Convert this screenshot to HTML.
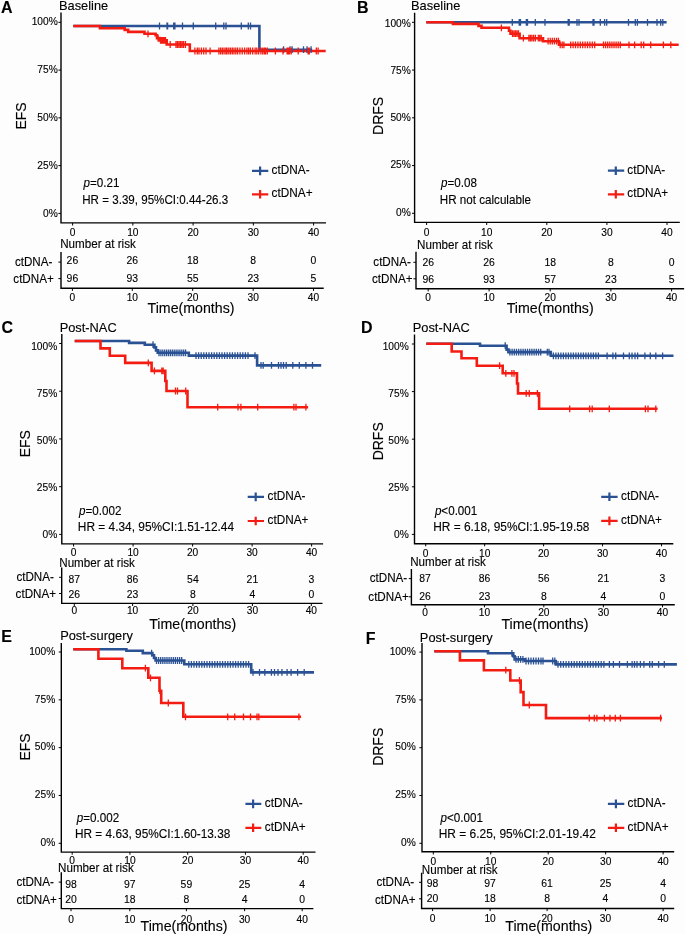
<!DOCTYPE html>
<html><head><meta charset="utf-8"><title>KM curves</title>
<style>
html,body{margin:0;padding:0;background:#fff;}
body{width:685px;height:934px;overflow:hidden;}
svg{display:block;will-change:transform;}
svg text{font-family:"Liberation Sans",sans-serif;fill:#000;stroke:#000;stroke-width:0.12px;}
</style></head><body>
<svg width="685" height="934" viewBox="0 0 685 934">
<rect width="685" height="934" fill="#fdfdfd"/>
<text font-size="16" font-weight="bold" transform="translate(1.1 12.6) scale(1 1.04)">A</text>
<text font-size="12.85" transform="translate(58.95 10.2) scale(1 1.04)">Baseline</text>
<text x="0" y="0" font-size="14" text-anchor="middle" transform="translate(25.52 116) rotate(-90) scale(1 1.04)">EFS</text>
<path d="M61 12.6V222.9H326" fill="none" stroke="#000" stroke-width="1.4"/>
<text font-size="10.2" text-anchor="end" transform="translate(57.7 25.15) scale(1 1.04)">100%</text>
<text font-size="10.2" text-anchor="end" transform="translate(57.7 73.1) scale(1 1.04)">75%</text>
<text font-size="10.2" text-anchor="end" transform="translate(57.7 121.05) scale(1 1.04)">50%</text>
<text font-size="10.2" text-anchor="end" transform="translate(57.7 169) scale(1 1.04)">25%</text>
<text font-size="10.2" text-anchor="end" transform="translate(57.7 216.95) scale(1 1.04)">0%</text>
<text font-size="10.2" text-anchor="middle" transform="translate(72.6 235.8) scale(1 1.04)">0</text>
<text font-size="10.2" text-anchor="middle" transform="translate(132.85 235.8) scale(1 1.04)">10</text>
<text font-size="10.2" text-anchor="middle" transform="translate(193.1 235.8) scale(1 1.04)">20</text>
<text font-size="10.2" text-anchor="middle" transform="translate(253.35 235.8) scale(1 1.04)">30</text>
<text font-size="10.2" text-anchor="middle" transform="translate(313.6 235.8) scale(1 1.04)">40</text>
<path d="M58.4 22.3H61M58.4 70.08H61M58.4 117.85H61M58.4 165.62H61M58.4 213.4H61M72.6 222.9V225.5M132.85 222.9V225.5M193.1 222.9V225.5M253.35 222.9V225.5M313.6 222.9V225.5" fill="none" stroke="#000" stroke-width="1"/>
<path d="M73.3 26H259.4V49.7H312.2" fill="none" stroke="#2A5193" stroke-width="2.6" stroke-linejoin="miter" stroke-linecap="butt"/>
<path d="M73.3 26H99.9V28.3H124.7V29.9H128.2V31.9H144.5V33.8H155.6V35.2H157V38.1H159.5V40.4H166.7V44.5H189.8V51H325.7" fill="none" stroke="#F41C12" stroke-width="2.6" stroke-linejoin="miter" stroke-linecap="butt"/>
<path d="M159.5 22.6v6.8M167 22.6v6.8M167.6 22.6v6.8M173.7 22.6v6.8M174.9 22.6v6.8M182.5 22.6v6.8M193.3 22.6v6.8M215.7 22.6v6.8M223.8 22.6v6.8M226 22.6v6.8M241.3 22.6v6.8M248.3 22.6v6.8M250.5 22.6v6.8M283.6 46.3v6.8M290 46.3v6.8M292.1 46.3v6.8M303.5 46.3v6.8M307 46.3v6.8M311.1 46.3v6.8" fill="none" stroke="#2A5193" stroke-width="1.3"/>
<path d="M148 30.4v6.8M158 34.7v6.8M160.5 37v6.8M161.5 37v6.8M162.5 37v6.8M163.5 37v6.8M164.5 37v6.8M165.5 37v6.8M170.2 41.1v6.8M176 41.1v6.8M177.5 41.1v6.8M179 41.1v6.8M180.5 41.1v6.8M182 41.1v6.8M183.5 41.1v6.8M185.4 41.1v6.8M194.9 47.6v6.8M197.3 47.6v6.8M199 47.6v6.8M201.4 47.6v6.8M203.7 47.6v6.8M206 47.6v6.8M210.1 47.6v6.8M218.9 47.6v6.8M220.6 47.6v6.8M222.4 47.6v6.8M224.1 47.6v6.8M225.9 47.6v6.8M227 47.6v6.8M228.8 47.6v6.8M230.5 47.6v6.8M232.3 47.6v6.8M234 47.6v6.8M235.8 47.6v6.8M237.6 47.6v6.8M239.9 47.6v6.8M242.2 47.6v6.8M244.6 47.6v6.8M246.9 47.6v6.8M248.6 47.6v6.8M250.4 47.6v6.8M252.7 47.6v6.8M255.1 47.6v6.8M256.8 47.6v6.8M258.6 47.6v6.8M260.9 47.6v6.8M262.7 47.6v6.8M264.4 47.6v6.8M265.5 47.6v6.8M267.3 47.6v6.8M275.4 47.6v6.8M283 47.6v6.8M287.1 47.6v6.8M288.3 47.6v6.8M289.5 47.6v6.8M291.2 47.6v6.8M298.2 47.6v6.8M308.1 47.6v6.8M309.3 47.6v6.8M316.3 47.6v6.8M318.1 47.6v6.8" fill="none" stroke="#F41C12" stroke-width="1.3"/>
<text font-size="11.65" transform="translate(83.49 186.6) scale(1 1.04)"><tspan font-style="italic">p</tspan>=0.21</text>
<text font-size="11.6" transform="translate(82.25 203.9) scale(1 1.04)">HR = 3.39, 95%CI:0.44-26.3</text>
<path d="M252 170.9H268.3M260.1 166.6v8.6" fill="none" stroke="#2A5193" stroke-width="2.2"/>
<text font-size="11.8" transform="translate(271.6 174) scale(1 1.04)">ctDNA-</text>
<path d="M252 194.3H268.3M260.1 190v8.6" fill="none" stroke="#F41C12" stroke-width="2.2"/>
<text font-size="11.8" transform="translate(271.6 197.4) scale(1 1.04)">ctDNA+</text>
<text font-size="11.65" transform="translate(60.14 247.8) scale(1 1.04)">Number at risk</text>
<path d="M61 252V288.3H323.7" fill="none" stroke="#000" stroke-width="1.4"/>
<text font-size="11.65" transform="translate(14.91 265.8) scale(1 1.04)">ctDNA-</text>
<text font-size="10.4" text-anchor="middle" transform="translate(72.4 263.8) scale(1 1.04)">26</text>
<text font-size="10.4" text-anchor="middle" transform="translate(132.3 263.8) scale(1 1.04)">26</text>
<text font-size="10.4" text-anchor="middle" transform="translate(192.7 263.8) scale(1 1.04)">18</text>
<text font-size="10.4" text-anchor="middle" transform="translate(253.2 263.8) scale(1 1.04)">8</text>
<text font-size="10.4" text-anchor="middle" transform="translate(313.5 263.8) scale(1 1.04)">0</text>
<text font-size="11.65" transform="translate(13.31 283.25) scale(1 1.04)">ctDNA+</text>
<text font-size="10.4" text-anchor="middle" transform="translate(72.4 281.8) scale(1 1.04)">96</text>
<text font-size="10.4" text-anchor="middle" transform="translate(132.3 281.8) scale(1 1.04)">93</text>
<text font-size="10.4" text-anchor="middle" transform="translate(192.7 281.8) scale(1 1.04)">55</text>
<text font-size="10.4" text-anchor="middle" transform="translate(253.2 281.8) scale(1 1.04)">23</text>
<text font-size="10.4" text-anchor="middle" transform="translate(313.5 281.8) scale(1 1.04)">5</text>
<text font-size="10.2" text-anchor="middle" transform="translate(72.4 300.5) scale(1 1.04)">0</text>
<text font-size="10.2" text-anchor="middle" transform="translate(132.3 300.5) scale(1 1.04)">10</text>
<text font-size="10.2" text-anchor="middle" transform="translate(192.7 300.5) scale(1 1.04)">20</text>
<text font-size="10.2" text-anchor="middle" transform="translate(253.2 300.5) scale(1 1.04)">30</text>
<text font-size="10.2" text-anchor="middle" transform="translate(313.5 300.5) scale(1 1.04)">40</text>
<path d="M58.4 262.1H61M58.4 278.6H61M72.4 288.3V290.9M132.3 288.3V290.9M192.7 288.3V290.9M253.2 288.3V290.9M313.5 288.3V290.9" fill="none" stroke="#000" stroke-width="1"/>
<text font-size="14.2" text-anchor="middle" transform="translate(191 313.1) scale(1 1.04)">Time(months)</text>
<text font-size="16" font-weight="bold" transform="translate(357.03 12.7) scale(1 1.04)">B</text>
<text font-size="12.85" transform="translate(411.05 10.2) scale(1 1.04)">Baseline</text>
<text x="0" y="0" font-size="14" text-anchor="middle" transform="translate(382.72 115.9) rotate(-90) scale(1 1.04)">DRFS</text>
<path d="M414.6 12.8V222.4H679.8" fill="none" stroke="#000" stroke-width="1.4"/>
<text font-size="10.2" text-anchor="end" transform="translate(410.8 26.75) scale(1 1.04)">100%</text>
<text font-size="10.2" text-anchor="end" transform="translate(410.8 73.95) scale(1 1.04)">75%</text>
<text font-size="10.2" text-anchor="end" transform="translate(410.8 121.15) scale(1 1.04)">50%</text>
<text font-size="10.2" text-anchor="end" transform="translate(410.8 168.35) scale(1 1.04)">25%</text>
<text font-size="10.2" text-anchor="end" transform="translate(410.8 215.55) scale(1 1.04)">0%</text>
<text font-size="10.2" text-anchor="middle" transform="translate(426.6 236) scale(1 1.04)">0</text>
<text font-size="10.2" text-anchor="middle" transform="translate(486.7 236) scale(1 1.04)">10</text>
<text font-size="10.2" text-anchor="middle" transform="translate(546.8 236) scale(1 1.04)">20</text>
<text font-size="10.2" text-anchor="middle" transform="translate(606.9 236) scale(1 1.04)">30</text>
<text font-size="10.2" text-anchor="middle" transform="translate(667 236) scale(1 1.04)">40</text>
<path d="M412 22.3H414.6M412 70.05H414.6M412 117.8H414.6M412 165.55H414.6M412 213.3H414.6M426.6 222.4V225M486.7 222.4V225M546.8 222.4V225M606.9 222.4V225M667 222.4V225" fill="none" stroke="#000" stroke-width="1"/>
<path d="M426.3 22.3H666.6" fill="none" stroke="#2A5193" stroke-width="2.6" stroke-linejoin="miter" stroke-linecap="butt"/>
<path d="M426.3 22.3H452.9V23.9H478.5V25.9H481.5V27.8H509V30.8H510.5V33.7H512V33.7H519.6V38.2H543V41.2H559V44.8H678.7" fill="none" stroke="#F41C12" stroke-width="2.6" stroke-linejoin="miter" stroke-linecap="butt"/>
<path d="M512.3 18.9v6.8M519.2 18.9v6.8M520.5 18.9v6.8M526.3 18.9v6.8M527.5 18.9v6.8M535.3 18.9v6.8M545 18.9v6.8M568.2 18.9v6.8M569.2 18.9v6.8M577 18.9v6.8M579 18.9v6.8M593 18.9v6.8M594 18.9v6.8M600.3 18.9v6.8M604.6 18.9v6.8M606.7 18.9v6.8M628.5 18.9v6.8M635.3 18.9v6.8M637.4 18.9v6.8M647.5 18.9v6.8M657 18.9v6.8M660.7 18.9v6.8M662.8 18.9v6.8" fill="none" stroke="#2A5193" stroke-width="1.3"/>
<path d="M501.4 24.4v6.8M512.5 30.3v6.8M514 30.3v6.8M515.5 30.3v6.8M517 30.3v6.8M518.5 30.3v6.8M523.4 34.8v6.8M528.9 34.8v6.8M530.4 34.8v6.8M531.9 34.8v6.8M533.6 34.8v6.8M535.4 34.8v6.8M538.3 34.8v6.8M539.7 34.8v6.8M541.2 34.8v6.8M548.1 37.8v6.8M550.2 37.8v6.8M552.3 37.8v6.8M554.4 37.8v6.8M556.5 37.8v6.8M558.4 37.8v6.8M560.2 41.4v6.8M562.2 41.4v6.8M563.9 41.4v6.8M570.7 41.4v6.8M573.1 41.4v6.8M575.5 41.4v6.8M577.9 41.4v6.8M580.3 41.4v6.8M582.7 41.4v6.8M585.1 41.4v6.8M587.5 41.4v6.8M589.9 41.4v6.8M592.3 41.4v6.8M594.7 41.4v6.8M603.5 41.4v6.8M605.6 41.4v6.8M607.7 41.4v6.8M609.8 41.4v6.8M611.9 41.4v6.8M614 41.4v6.8M616.1 41.4v6.8M618.2 41.4v6.8M620.3 41.4v6.8M629 41.4v6.8M634.6 41.4v6.8M641.2 41.4v6.8M643.7 41.4v6.8M650.7 41.4v6.8M663.4 41.4v6.8M670.8 41.4v6.8" fill="none" stroke="#F41C12" stroke-width="1.3"/>
<text font-size="11.65" transform="translate(440.99 186.8) scale(1 1.04)"><tspan font-style="italic">p</tspan>=0.08</text>
<text font-size="11.66" transform="translate(439.74 203.9) scale(1 1.04)">HR not calculable</text>
<path d="M607.9 170.7H624.2M615.8 166.4v8.6" fill="none" stroke="#2A5193" stroke-width="2.2"/>
<text font-size="11.8" transform="translate(627.3 173.8) scale(1 1.04)">ctDNA-</text>
<path d="M607.9 194.3H624.2M615.8 190v8.6" fill="none" stroke="#F41C12" stroke-width="2.2"/>
<text font-size="11.8" transform="translate(627.3 197.4) scale(1 1.04)">ctDNA+</text>
<text font-size="11.65" transform="translate(417.04 249) scale(1 1.04)">Number at risk</text>
<path d="M416 251.8V288.8H684.1" fill="none" stroke="#000" stroke-width="1.4"/>
<text font-size="11.65" transform="translate(373.31 265.75) scale(1 1.04)">ctDNA-</text>
<text font-size="10.4" text-anchor="middle" transform="translate(428.2 265.9) scale(1 1.04)">26</text>
<text font-size="10.4" text-anchor="middle" transform="translate(489.1 265.9) scale(1 1.04)">26</text>
<text font-size="10.4" text-anchor="middle" transform="translate(550.2 265.9) scale(1 1.04)">18</text>
<text font-size="10.4" text-anchor="middle" transform="translate(610.9 265.9) scale(1 1.04)">8</text>
<text font-size="10.4" text-anchor="middle" transform="translate(671.6 265.9) scale(1 1.04)">0</text>
<text font-size="11.65" transform="translate(372.01 283.25) scale(1 1.04)">ctDNA+</text>
<text font-size="10.4" text-anchor="middle" transform="translate(428.2 282.9) scale(1 1.04)">96</text>
<text font-size="10.4" text-anchor="middle" transform="translate(489.1 282.9) scale(1 1.04)">93</text>
<text font-size="10.4" text-anchor="middle" transform="translate(550.2 282.9) scale(1 1.04)">57</text>
<text font-size="10.4" text-anchor="middle" transform="translate(610.9 282.9) scale(1 1.04)">23</text>
<text font-size="10.4" text-anchor="middle" transform="translate(671.6 282.9) scale(1 1.04)">5</text>
<text font-size="10.2" text-anchor="middle" transform="translate(428.2 300.8) scale(1 1.04)">0</text>
<text font-size="10.2" text-anchor="middle" transform="translate(489.1 300.8) scale(1 1.04)">10</text>
<text font-size="10.2" text-anchor="middle" transform="translate(550.2 300.8) scale(1 1.04)">20</text>
<text font-size="10.2" text-anchor="middle" transform="translate(610.9 300.8) scale(1 1.04)">30</text>
<text font-size="10.2" text-anchor="middle" transform="translate(671.6 300.8) scale(1 1.04)">40</text>
<path d="M413.4 262.3H416M413.4 278.8H416M428.2 288.8V291.4M489.1 288.8V291.4M550.2 288.8V291.4M610.9 288.8V291.4M671.6 288.8V291.4" fill="none" stroke="#000" stroke-width="1"/>
<text font-size="14.2" text-anchor="middle" transform="translate(550.2 313.2) scale(1 1.04)">Time(months)</text>
<text font-size="16" font-weight="bold" transform="translate(1.39 333.2) scale(1 1.04)">C</text>
<text font-size="12.85" transform="translate(59.65 331.5) scale(1 1.04)">Post-NAC</text>
<text x="0" y="0" font-size="14" text-anchor="middle" transform="translate(29.62 443.7) rotate(-90) scale(1 1.04)">EFS</text>
<path d="M61.8 334.1V543.9H323.1" fill="none" stroke="#000" stroke-width="1.4"/>
<text font-size="10.2" text-anchor="end" transform="translate(57.2 349.55) scale(1 1.04)">100%</text>
<text font-size="10.2" text-anchor="end" transform="translate(57.2 396.6) scale(1 1.04)">75%</text>
<text font-size="10.2" text-anchor="end" transform="translate(57.2 443.65) scale(1 1.04)">50%</text>
<text font-size="10.2" text-anchor="end" transform="translate(57.2 490.7) scale(1 1.04)">25%</text>
<text font-size="10.2" text-anchor="end" transform="translate(57.2 537.75) scale(1 1.04)">0%</text>
<text font-size="10.2" text-anchor="middle" transform="translate(73.6 555.5) scale(1 1.04)">0</text>
<text font-size="10.2" text-anchor="middle" transform="translate(133.1 555.5) scale(1 1.04)">10</text>
<text font-size="10.2" text-anchor="middle" transform="translate(192.6 555.5) scale(1 1.04)">20</text>
<text font-size="10.2" text-anchor="middle" transform="translate(252.1 555.5) scale(1 1.04)">30</text>
<text font-size="10.2" text-anchor="middle" transform="translate(311.6 555.5) scale(1 1.04)">40</text>
<path d="M59.2 343.5H61.8M59.2 391.23H61.8M59.2 438.95H61.8M59.2 486.67H61.8M59.2 534.4H61.8M73.6 543.9V546.5M133.1 543.9V546.5M192.6 543.9V546.5M252.1 543.9V546.5M311.6 543.9V546.5" fill="none" stroke="#000" stroke-width="1"/>
<path d="M74.7 341H129.1V342.9H144.8V344.7H154.4V347.4H156V350.4H157.7V352.8H188.8V355.6H257.1V365.4H321.2" fill="none" stroke="#2A5193" stroke-width="2.6" stroke-linejoin="miter" stroke-linecap="butt"/>
<path d="M74.7 341H100.5V348.4H109.8V355.8H125.2V362.9H151.6V370.9H165.3V381H166.5V391H187.5V407.2H308.1" fill="none" stroke="#F41C12" stroke-width="2.6" stroke-linejoin="miter" stroke-linecap="butt"/>
<path d="M153 341.3v6.8M159 349.4v6.8M160.9 349.4v6.8M162.8 349.4v6.8M164.7 349.4v6.8M166.6 349.4v6.8M168.5 349.4v6.8M170.4 349.4v6.8M172.3 349.4v6.8M174.2 349.4v6.8M176.1 349.4v6.8M178 349.4v6.8M179.9 349.4v6.8M181.8 349.4v6.8M183.7 349.4v6.8M185.6 349.4v6.8M196 352.2v6.8M198.6 352.2v6.8M201.2 352.2v6.8M203.8 352.2v6.8M206.4 352.2v6.8M209 352.2v6.8M211.6 352.2v6.8M214.2 352.2v6.8M216.8 352.2v6.8M219.4 352.2v6.8M222 352.2v6.8M224.6 352.2v6.8M227.2 352.2v6.8M229.8 352.2v6.8M232.4 352.2v6.8M235 352.2v6.8M237.6 352.2v6.8M240.2 352.2v6.8M242.8 352.2v6.8M245.4 352.2v6.8M248 352.2v6.8M255 352.2v6.8M261 362v6.8M263.2 362v6.8M271.5 362v6.8M278.5 362v6.8M281 362v6.8M283.5 362v6.8M286.2 362v6.8M292.8 362v6.8M299.3 362v6.8M305.9 362v6.8M312.5 362v6.8" fill="none" stroke="#2A5193" stroke-width="1.3"/>
<path d="M148.3 359.5v6.8M154.4 367.5v6.8M161.8 367.5v6.8M163.2 367.5v6.8M175.5 387.6v6.8M177.5 387.6v6.8M185.7 387.6v6.8M217.7 403.8v6.8M238 403.8v6.8M240.9 403.8v6.8M257.7 403.8v6.8M293.9 403.8v6.8M296 403.8v6.8M305.9 403.8v6.8" fill="none" stroke="#F41C12" stroke-width="1.3"/>
<text font-size="11.65" transform="translate(79.09 514.7) scale(1 1.04)"><tspan font-style="italic">p</tspan>=0.002</text>
<text font-size="11.9" transform="translate(77.82 531) scale(1 1.04)">HR = 4.34, 95%CI:1.51-12.44</text>
<path d="M247.7 496.9H264M255.7 492.6v8.6" fill="none" stroke="#2A5193" stroke-width="2.2"/>
<text font-size="11.8" transform="translate(267.5 500) scale(1 1.04)">ctDNA-</text>
<path d="M247.7 521H264M255.7 516.7v8.6" fill="none" stroke="#F41C12" stroke-width="2.2"/>
<text font-size="11.8" transform="translate(267.5 524.1) scale(1 1.04)">ctDNA+</text>
<text font-size="11.65" transform="translate(59.24 566.6) scale(1 1.04)">Number at risk</text>
<path d="M61.7 567.4V603.4H322.5" fill="none" stroke="#000" stroke-width="1.4"/>
<text font-size="11.65" transform="translate(16.41 581.15) scale(1 1.04)">ctDNA-</text>
<text font-size="10.4" text-anchor="middle" transform="translate(74.3 582.8) scale(1 1.04)">87</text>
<text font-size="10.4" text-anchor="middle" transform="translate(132.6 582.8) scale(1 1.04)">86</text>
<text font-size="10.4" text-anchor="middle" transform="translate(192.9 582.8) scale(1 1.04)">54</text>
<text font-size="10.4" text-anchor="middle" transform="translate(252.4 582.8) scale(1 1.04)">21</text>
<text font-size="10.4" text-anchor="middle" transform="translate(311.3 582.8) scale(1 1.04)">3</text>
<text font-size="11.65" transform="translate(15.61 598.25) scale(1 1.04)">ctDNA+</text>
<text font-size="10.4" text-anchor="middle" transform="translate(74.3 598) scale(1 1.04)">26</text>
<text font-size="10.4" text-anchor="middle" transform="translate(132.6 598) scale(1 1.04)">23</text>
<text font-size="10.4" text-anchor="middle" transform="translate(192.9 598) scale(1 1.04)">8</text>
<text font-size="10.4" text-anchor="middle" transform="translate(252.4 598) scale(1 1.04)">4</text>
<text font-size="10.4" text-anchor="middle" transform="translate(311.3 598) scale(1 1.04)">0</text>
<text font-size="10.2" text-anchor="middle" transform="translate(74.3 614.4) scale(1 1.04)">0</text>
<text font-size="10.2" text-anchor="middle" transform="translate(132.6 614.4) scale(1 1.04)">10</text>
<text font-size="10.2" text-anchor="middle" transform="translate(192.9 614.4) scale(1 1.04)">20</text>
<text font-size="10.2" text-anchor="middle" transform="translate(252.4 614.4) scale(1 1.04)">30</text>
<text font-size="10.2" text-anchor="middle" transform="translate(311.3 614.4) scale(1 1.04)">40</text>
<path d="M59.1 577.3H61.7M59.1 593.5H61.7M74.3 603.4V606M132.6 603.4V606M192.9 603.4V606M252.4 603.4V606M311.3 603.4V606" fill="none" stroke="#000" stroke-width="1"/>
<text font-size="14.2" text-anchor="middle" transform="translate(192.7 628.9) scale(1 1.04)">Time(months)</text>
<text font-size="16" font-weight="bold" transform="translate(361.03 333.1) scale(1 1.04)">D</text>
<text font-size="12.85" transform="translate(412.75 331.5) scale(1 1.04)">Post-NAC</text>
<text x="0" y="0" font-size="14" text-anchor="middle" transform="translate(382.72 441.3) rotate(-90) scale(1 1.04)">DRFS</text>
<path d="M414.5 334.5V543.7H673.3" fill="none" stroke="#000" stroke-width="1.4"/>
<text font-size="10.2" text-anchor="end" transform="translate(408.7 350.05) scale(1 1.04)">100%</text>
<text font-size="10.2" text-anchor="end" transform="translate(408.7 396.98) scale(1 1.04)">75%</text>
<text font-size="10.2" text-anchor="end" transform="translate(408.7 443.9) scale(1 1.04)">50%</text>
<text font-size="10.2" text-anchor="end" transform="translate(408.7 490.83) scale(1 1.04)">25%</text>
<text font-size="10.2" text-anchor="end" transform="translate(408.7 537.75) scale(1 1.04)">0%</text>
<text font-size="10.2" text-anchor="middle" transform="translate(425.7 556.8) scale(1 1.04)">0</text>
<text font-size="10.2" text-anchor="middle" transform="translate(484.65 556.8) scale(1 1.04)">10</text>
<text font-size="10.2" text-anchor="middle" transform="translate(543.6 556.8) scale(1 1.04)">20</text>
<text font-size="10.2" text-anchor="middle" transform="translate(602.55 556.8) scale(1 1.04)">30</text>
<text font-size="10.2" text-anchor="middle" transform="translate(661.5 556.8) scale(1 1.04)">40</text>
<path d="M411.9 344H414.5M411.9 391.6H414.5M411.9 439.2H414.5M411.9 486.8H414.5M411.9 534.4H414.5M425.7 543.7V546.3M484.65 543.7V546.3M543.6 543.7V546.3M602.55 543.7V546.3M661.5 543.7V546.3" fill="none" stroke="#000" stroke-width="1"/>
<path d="M426.3 343.7H480V345.7H506.6V349.6H508.4V352.1H550.8V355.8H673.5" fill="none" stroke="#2A5193" stroke-width="2.6" stroke-linejoin="miter" stroke-linecap="butt"/>
<path d="M426.3 343.7H451.7V351.5H461.5V358.3H476.8V365.7H502.7V373.3H517V383.5H518V393.4H539.1V408.8H657.6" fill="none" stroke="#F41C12" stroke-width="2.6" stroke-linejoin="miter" stroke-linecap="butt"/>
<path d="M505.2 342.3v6.8M509.9 348.7v6.8M512.1 348.7v6.8M514.3 348.7v6.8M516.5 348.7v6.8M518.7 348.7v6.8M520.9 348.7v6.8M523.1 348.7v6.8M525.3 348.7v6.8M527.5 348.7v6.8M529.7 348.7v6.8M531.9 348.7v6.8M534.1 348.7v6.8M536.3 348.7v6.8M538.5 348.7v6.8M540.7 348.7v6.8M547.3 348.7v6.8M549 348.7v6.8M553.4 352.4v6.8M555.9 352.4v6.8M558.4 352.4v6.8M560.9 352.4v6.8M563.4 352.4v6.8M565.9 352.4v6.8M568.4 352.4v6.8M570.9 352.4v6.8M573.4 352.4v6.8M575.9 352.4v6.8M578.4 352.4v6.8M580.9 352.4v6.8M583.4 352.4v6.8M585.9 352.4v6.8M588.4 352.4v6.8M590.9 352.4v6.8M593.4 352.4v6.8M595.9 352.4v6.8M598.4 352.4v6.8M607.1 352.4v6.8M612.9 352.4v6.8M615.7 352.4v6.8M623.5 352.4v6.8M629.3 352.4v6.8M632 352.4v6.8M635 352.4v6.8M637.6 352.4v6.8M644.9 352.4v6.8M650.3 352.4v6.8M655.8 352.4v6.8M662.6 352.4v6.8" fill="none" stroke="#2A5193" stroke-width="1.3"/>
<path d="M499.6 362.3v6.8M505.8 369.9v6.8M511.9 369.9v6.8M514 369.9v6.8M526.2 390v6.8M529.3 390v6.8M537.4 390v6.8M569.7 405.4v6.8M589.6 405.4v6.8M592.2 405.4v6.8M609.3 405.4v6.8M645.4 405.4v6.8M648 405.4v6.8M655.8 405.4v6.8" fill="none" stroke="#F41C12" stroke-width="1.3"/>
<text font-size="11.65" transform="translate(434.89 514.7) scale(1 1.04)"><tspan font-style="italic">p</tspan>&lt;0.001</text>
<text font-size="11.9" transform="translate(433.22 530.8) scale(1 1.04)">HR = 6.18, 95%CI:1.95-19.58</text>
<path d="M601.2 496.8H617.6M609.4 492.5v8.6" fill="none" stroke="#2A5193" stroke-width="2.2"/>
<text font-size="11.8" transform="translate(621 499.9) scale(1 1.04)">ctDNA-</text>
<path d="M601.2 520.9H617.6M609.4 516.6v8.6" fill="none" stroke="#F41C12" stroke-width="2.2"/>
<text font-size="11.8" transform="translate(621 524) scale(1 1.04)">ctDNA+</text>
<text font-size="11.65" transform="translate(410.14 565.8) scale(1 1.04)">Number at risk</text>
<path d="M411.4 568.9V604.7H674.8" fill="none" stroke="#000" stroke-width="1.4"/>
<text font-size="11.65" transform="translate(369.71 581.5) scale(1 1.04)">ctDNA-</text>
<text font-size="10.4" text-anchor="middle" transform="translate(425.1 581.9) scale(1 1.04)">87</text>
<text font-size="10.4" text-anchor="middle" transform="translate(484.45 581.9) scale(1 1.04)">86</text>
<text font-size="10.4" text-anchor="middle" transform="translate(543.8 581.9) scale(1 1.04)">56</text>
<text font-size="10.4" text-anchor="middle" transform="translate(603.4 581.9) scale(1 1.04)">21</text>
<text font-size="10.4" text-anchor="middle" transform="translate(662.5 581.9) scale(1 1.04)">3</text>
<text font-size="11.65" transform="translate(368.31 601.2) scale(1 1.04)">ctDNA+</text>
<text font-size="10.4" text-anchor="middle" transform="translate(425.1 600) scale(1 1.04)">26</text>
<text font-size="10.4" text-anchor="middle" transform="translate(484.45 600) scale(1 1.04)">23</text>
<text font-size="10.4" text-anchor="middle" transform="translate(543.8 600) scale(1 1.04)">8</text>
<text font-size="10.4" text-anchor="middle" transform="translate(603.4 600) scale(1 1.04)">4</text>
<text font-size="10.4" text-anchor="middle" transform="translate(662.5 600) scale(1 1.04)">0</text>
<text font-size="10.2" text-anchor="middle" transform="translate(425.1 616.4) scale(1 1.04)">0</text>
<text font-size="10.2" text-anchor="middle" transform="translate(484.45 616.4) scale(1 1.04)">10</text>
<text font-size="10.2" text-anchor="middle" transform="translate(543.8 616.4) scale(1 1.04)">20</text>
<text font-size="10.2" text-anchor="middle" transform="translate(603.4 616.4) scale(1 1.04)">30</text>
<text font-size="10.2" text-anchor="middle" transform="translate(662.5 616.4) scale(1 1.04)">40</text>
<path d="M408.8 578.6H411.4M408.8 596.8H411.4M425.1 604.7V607.3M484.45 604.7V607.3M543.8 604.7V607.3M603.4 604.7V607.3M662.5 604.7V607.3" fill="none" stroke="#000" stroke-width="1"/>
<text font-size="14.2" text-anchor="middle" transform="translate(544.9 628.6) scale(1 1.04)">Time(months)</text>
<text font-size="16" font-weight="bold" transform="translate(1.23 641.5) scale(1 1.04)">E</text>
<text font-size="12.85" transform="translate(60.15 640.4) scale(1 1.04)">Post-surgery</text>
<text x="0" y="0" font-size="14" text-anchor="middle" transform="translate(30.12 747) rotate(-90) scale(1 1.04)">EFS</text>
<path d="M61.3 642.9V852.1H315.5" fill="none" stroke="#000" stroke-width="1.4"/>
<text font-size="10.2" text-anchor="end" transform="translate(55.2 654.75) scale(1 1.04)">100%</text>
<text font-size="10.2" text-anchor="end" transform="translate(55.2 702.58) scale(1 1.04)">75%</text>
<text font-size="10.2" text-anchor="end" transform="translate(55.2 750.4) scale(1 1.04)">50%</text>
<text font-size="10.2" text-anchor="end" transform="translate(55.2 798.22) scale(1 1.04)">25%</text>
<text font-size="10.2" text-anchor="end" transform="translate(55.2 846.05) scale(1 1.04)">0%</text>
<text font-size="10.2" text-anchor="middle" transform="translate(72.2 864.2) scale(1 1.04)">0</text>
<text font-size="10.2" text-anchor="middle" transform="translate(129.95 864.2) scale(1 1.04)">10</text>
<text font-size="10.2" text-anchor="middle" transform="translate(187.7 864.2) scale(1 1.04)">20</text>
<text font-size="10.2" text-anchor="middle" transform="translate(245.45 864.2) scale(1 1.04)">30</text>
<text font-size="10.2" text-anchor="middle" transform="translate(303.2 864.2) scale(1 1.04)">40</text>
<path d="M58.7 652H61.3M58.7 699.83H61.3M58.7 747.65H61.3M58.7 795.47H61.3M58.7 843.3H61.3M72.2 852.1V854.7M129.95 852.1V854.7M187.7 852.1V854.7M245.45 852.1V854.7M303.2 852.1V854.7" fill="none" stroke="#000" stroke-width="1"/>
<path d="M73.3 649.2H126.4V650.8H142.8V653.1H152.4V655.3H154V658H155.6V660.5H184.3V664.3H251.2V672.4H314" fill="none" stroke="#2A5193" stroke-width="2.6" stroke-linejoin="miter" stroke-linecap="butt"/>
<path d="M73.3 649.2H98.4V658.8H122.3V668.2H148.3V677.8H159.5V690.7H161.2V703H183.3V716.8H301.1" fill="none" stroke="#F41C12" stroke-width="2.6" stroke-linejoin="miter" stroke-linecap="butt"/>
<path d="M151.6 649.7v6.8M156.5 657.1v6.8M158.6 657.1v6.8M160.7 657.1v6.8M162.8 657.1v6.8M164.9 657.1v6.8M167 657.1v6.8M169.1 657.1v6.8M171.2 657.1v6.8M173.3 657.1v6.8M175.4 657.1v6.8M177.5 657.1v6.8M179.6 657.1v6.8M181.7 657.1v6.8M188.8 660.9v6.8M191.4 660.9v6.8M194 660.9v6.8M196.6 660.9v6.8M199.2 660.9v6.8M201.8 660.9v6.8M204.4 660.9v6.8M207 660.9v6.8M209.6 660.9v6.8M212.2 660.9v6.8M214.8 660.9v6.8M217.4 660.9v6.8M220 660.9v6.8M222.6 660.9v6.8M225.2 660.9v6.8M227.8 660.9v6.8M230.4 660.9v6.8M233 660.9v6.8M235.6 660.9v6.8M238.2 660.9v6.8M240.8 660.9v6.8M243.4 660.9v6.8M246 660.9v6.8M248.6 660.9v6.8M253 669v6.8M259.5 669v6.8M264.8 669v6.8M271.4 669v6.8M274.5 669v6.8M278 669v6.8M281.9 669v6.8M287.1 669v6.8M291.1 669v6.8M297.6 669v6.8M304.2 669v6.8" fill="none" stroke="#2A5193" stroke-width="1.3"/>
<path d="M145.4 664.8v6.8M150.5 674.4v6.8M159.8 687.3v6.8M168.3 699.6v6.8M185.5 713.4v6.8M227.7 713.4v6.8M234.7 713.4v6.8M243.5 713.4v6.8M250.5 713.4v6.8M257 713.4v6.8M258.8 713.4v6.8M298.9 713.4v6.8" fill="none" stroke="#F41C12" stroke-width="1.3"/>
<text font-size="11.65" transform="translate(76.79 822.3) scale(1 1.04)"><tspan font-style="italic">p</tspan>=0.002</text>
<text font-size="11.82" transform="translate(75.03 837.8) scale(1 1.04)">HR = 4.63, 95%CI:1.60-13.38</text>
<path d="M245.4 803.9H261.3M253.1 799.6v8.6" fill="none" stroke="#2A5193" stroke-width="2.2"/>
<text font-size="11.8" transform="translate(264.8 807) scale(1 1.04)">ctDNA-</text>
<path d="M245.4 827.8H261.3M253.1 823.5v8.6" fill="none" stroke="#F41C12" stroke-width="2.2"/>
<text font-size="11.8" transform="translate(264.8 830.9) scale(1 1.04)">ctDNA+</text>
<text font-size="11.65" transform="translate(58.04 871.9) scale(1 1.04)">Number at risk</text>
<path d="M61.3 872.2V908.6H313.4" fill="none" stroke="#000" stroke-width="1.4"/>
<text font-size="11.65" transform="translate(16.41 885.95) scale(1 1.04)">ctDNA-</text>
<text font-size="10.4" text-anchor="middle" transform="translate(71 887.5) scale(1 1.04)">98</text>
<text font-size="10.4" text-anchor="middle" transform="translate(129.8 887.5) scale(1 1.04)">97</text>
<text font-size="10.4" text-anchor="middle" transform="translate(186.4 887.5) scale(1 1.04)">59</text>
<text font-size="10.4" text-anchor="middle" transform="translate(244.6 887.5) scale(1 1.04)">25</text>
<text font-size="10.4" text-anchor="middle" transform="translate(302.2 887.5) scale(1 1.04)">4</text>
<text font-size="11.65" transform="translate(16.41 903.65) scale(1 1.04)">ctDNA+</text>
<text font-size="10.4" text-anchor="middle" transform="translate(71 902.5) scale(1 1.04)">20</text>
<text font-size="10.4" text-anchor="middle" transform="translate(129.8 902.5) scale(1 1.04)">18</text>
<text font-size="10.4" text-anchor="middle" transform="translate(186.4 902.5) scale(1 1.04)">8</text>
<text font-size="10.4" text-anchor="middle" transform="translate(244.6 902.5) scale(1 1.04)">4</text>
<text font-size="10.4" text-anchor="middle" transform="translate(302.2 902.5) scale(1 1.04)">0</text>
<text font-size="10.2" text-anchor="middle" transform="translate(71 922.5) scale(1 1.04)">0</text>
<text font-size="10.2" text-anchor="middle" transform="translate(129.8 922.5) scale(1 1.04)">10</text>
<text font-size="10.2" text-anchor="middle" transform="translate(186.4 922.5) scale(1 1.04)">20</text>
<text font-size="10.2" text-anchor="middle" transform="translate(244.6 922.5) scale(1 1.04)">30</text>
<text font-size="10.2" text-anchor="middle" transform="translate(302.2 922.5) scale(1 1.04)">40</text>
<path d="M58.7 882.1H61.3M58.7 898.5H61.3M71 908.6V911.2M129.8 908.6V911.2M186.4 908.6V911.2M244.6 908.6V911.2M302.2 908.6V911.2" fill="none" stroke="#000" stroke-width="1"/>
<text font-size="14.2" text-anchor="middle" transform="translate(184 931) scale(1 1.04)">Time(months)</text>
<text font-size="16" font-weight="bold" transform="translate(365.73 643.5) scale(1 1.04)">F</text>
<text font-size="12.85" transform="translate(419.85 642.1) scale(1 1.04)">Post-surgery</text>
<text x="0" y="0" font-size="14" text-anchor="middle" transform="translate(382.72 746.8) rotate(-90) scale(1 1.04)">DRFS</text>
<path d="M422 642.9V851.8H674.2" fill="none" stroke="#000" stroke-width="1.4"/>
<text font-size="10.2" text-anchor="end" transform="translate(415.7 654.75) scale(1 1.04)">100%</text>
<text font-size="10.2" text-anchor="end" transform="translate(415.7 702.58) scale(1 1.04)">75%</text>
<text font-size="10.2" text-anchor="end" transform="translate(415.7 750.4) scale(1 1.04)">50%</text>
<text font-size="10.2" text-anchor="end" transform="translate(415.7 798.22) scale(1 1.04)">25%</text>
<text font-size="10.2" text-anchor="end" transform="translate(415.7 846.05) scale(1 1.04)">0%</text>
<text font-size="10.2" text-anchor="middle" transform="translate(433.3 864.5) scale(1 1.04)">0</text>
<text font-size="10.2" text-anchor="middle" transform="translate(490.75 864.5) scale(1 1.04)">10</text>
<text font-size="10.2" text-anchor="middle" transform="translate(548.2 864.5) scale(1 1.04)">20</text>
<text font-size="10.2" text-anchor="middle" transform="translate(605.65 864.5) scale(1 1.04)">30</text>
<text font-size="10.2" text-anchor="middle" transform="translate(663.1 864.5) scale(1 1.04)">40</text>
<path d="M419.4 652.1H422M419.4 699.9H422M419.4 747.7H422M419.4 795.5H422M419.4 843.3H422M433.3 851.8V854.4M490.75 851.8V854.4M548.2 851.8V854.4M605.65 851.8V854.4M663.1 851.8V854.4" fill="none" stroke="#000" stroke-width="1"/>
<path d="M434.3 651.3H488V653.3H513.3V656.3H514.6V659.4H524.8V661H555.8V664.4H676.9" fill="none" stroke="#2A5193" stroke-width="2.6" stroke-linejoin="miter" stroke-linecap="butt"/>
<path d="M434.3 651.3H459.9V660.4H483.9V670.2H510.3V680.5H520.7V692.1H523.5V705H546V718.1H662" fill="none" stroke="#F41C12" stroke-width="2.6" stroke-linejoin="miter" stroke-linecap="butt"/>
<path d="M511.9 649.9v6.8M516 656v6.8M518.3 656v6.8M520.6 656v6.8M522.9 656v6.8M526 657.6v6.8M528.5 657.6v6.8M531 657.6v6.8M533.5 657.6v6.8M536 657.6v6.8M538.5 657.6v6.8M541 657.6v6.8M543 657.6v6.8M552.7 657.6v6.8M554.8 657.6v6.8M558 661v6.8M560.7 661v6.8M563.4 661v6.8M566.1 661v6.8M568.8 661v6.8M571.5 661v6.8M574.2 661v6.8M576.9 661v6.8M579.6 661v6.8M582.3 661v6.8M585 661v6.8M587.7 661v6.8M590.4 661v6.8M593.1 661v6.8M595.8 661v6.8M598.5 661v6.8M601.2 661v6.8M603.9 661v6.8M609.4 661v6.8M613.4 661v6.8M619.5 661v6.8M627.4 661v6.8M632.1 661v6.8M634.5 661v6.8M637 661v6.8M640.4 661v6.8M643.9 661v6.8M649.7 661v6.8M652.3 661v6.8M658.6 661v6.8M664.3 661v6.8" fill="none" stroke="#2A5193" stroke-width="1.3"/>
<path d="M505.8 666.8v6.8M519.5 677.1v6.8M529.3 701.6v6.8M589.3 714.7v6.8M594.3 714.7v6.8M596.9 714.7v6.8M604.4 714.7v6.8M610 714.7v6.8M615.3 714.7v6.8M620.4 714.7v6.8M660.6 714.7v6.8" fill="none" stroke="#F41C12" stroke-width="1.3"/>
<text font-size="11.65" transform="translate(440.59 821.7) scale(1 1.04)"><tspan font-style="italic">p</tspan>&lt;0.001</text>
<text font-size="11.95" transform="translate(438.72 837.8) scale(1 1.04)">HR = 6.25, 95%CI:2.01-19.42</text>
<path d="M607.9 803.9H624.3M615.9 799.6v8.6" fill="none" stroke="#2A5193" stroke-width="2.2"/>
<text font-size="11.8" transform="translate(627.6 807) scale(1 1.04)">ctDNA-</text>
<path d="M607.9 827.8H624.3M615.9 823.5v8.6" fill="none" stroke="#F41C12" stroke-width="2.2"/>
<text font-size="11.8" transform="translate(627.6 830.9) scale(1 1.04)">ctDNA+</text>
<text font-size="11.65" transform="translate(421.84 874.4) scale(1 1.04)">Number at risk</text>
<path d="M421.6 872.8V908.5H674.2" fill="none" stroke="#000" stroke-width="1.4"/>
<text font-size="11.65" transform="translate(376.51 886.15) scale(1 1.04)">ctDNA-</text>
<text font-size="10.4" text-anchor="middle" transform="translate(432.6 887.1) scale(1 1.04)">98</text>
<text font-size="10.4" text-anchor="middle" transform="translate(490.1 887.1) scale(1 1.04)">97</text>
<text font-size="10.4" text-anchor="middle" transform="translate(547.1 887.1) scale(1 1.04)">61</text>
<text font-size="10.4" text-anchor="middle" transform="translate(605.5 887.1) scale(1 1.04)">25</text>
<text font-size="10.4" text-anchor="middle" transform="translate(663.1 887.1) scale(1 1.04)">4</text>
<text font-size="11.65" transform="translate(375.01 903.65) scale(1 1.04)">ctDNA+</text>
<text font-size="10.4" text-anchor="middle" transform="translate(432.6 902) scale(1 1.04)">20</text>
<text font-size="10.4" text-anchor="middle" transform="translate(490.1 902) scale(1 1.04)">18</text>
<text font-size="10.4" text-anchor="middle" transform="translate(547.1 902) scale(1 1.04)">8</text>
<text font-size="10.4" text-anchor="middle" transform="translate(605.5 902) scale(1 1.04)">4</text>
<text font-size="10.4" text-anchor="middle" transform="translate(663.1 902) scale(1 1.04)">0</text>
<text font-size="10.2" text-anchor="middle" transform="translate(432.6 921.7) scale(1 1.04)">0</text>
<text font-size="10.2" text-anchor="middle" transform="translate(490.1 921.7) scale(1 1.04)">10</text>
<text font-size="10.2" text-anchor="middle" transform="translate(547.1 921.7) scale(1 1.04)">20</text>
<text font-size="10.2" text-anchor="middle" transform="translate(605.5 921.7) scale(1 1.04)">30</text>
<text font-size="10.2" text-anchor="middle" transform="translate(663.1 921.7) scale(1 1.04)">40</text>
<path d="M419 882.3H421.6M419 898.8H421.6M432.6 908.5V911.1M490.1 908.5V911.1M547.1 908.5V911.1M605.5 908.5V911.1M663.1 908.5V911.1" fill="none" stroke="#000" stroke-width="1"/>
<text font-size="14.2" text-anchor="middle" transform="translate(548.8 930.8) scale(1 1.04)">Time(months)</text>
</svg>
</body></html>
